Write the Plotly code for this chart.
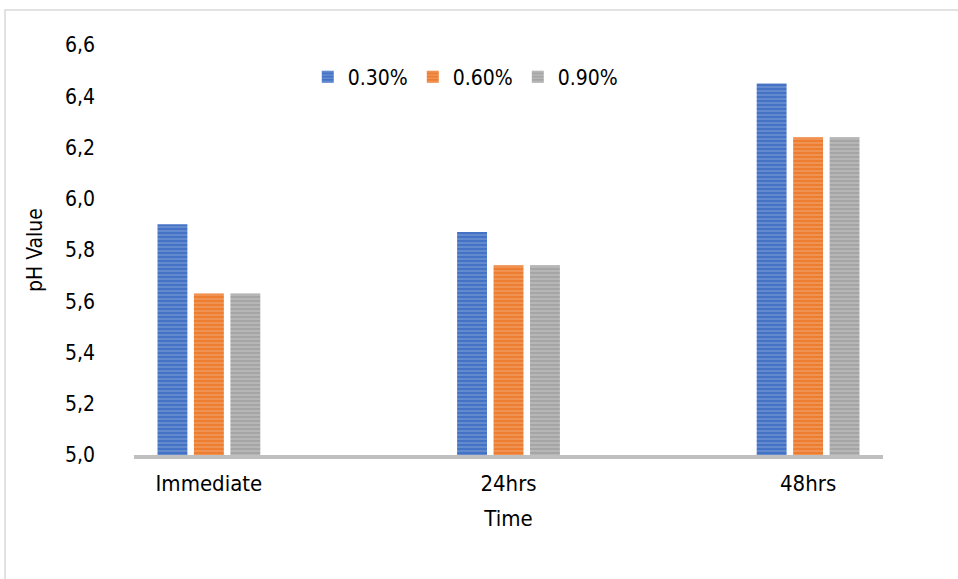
import plotly.graph_objects as go

# Categories, series and y ticks
categories = ["Immediate", "24hrs", "48hrs"]
series_names = ["0.30%", "0.60%", "0.90%"]
ph_030 = [5.90, 5.87, 6.45]
ph_060 = [5.63, 5.74, 6.24]
ph_090 = [5.63, 5.74, 6.24]
y_ticks = [5.0, 5.2, 5.4, 5.6, 5.8, 6.0, 6.2, 6.4, 6.6]

base_colors = ["#4472C4", "#ED7D31", "#A5A5A5"]
stripe_colors = ["#9DB4E0", "#F7B98E", "#D6D6D6"]

FONT = "DejaVu Sans Condensed, DejaVu Sans, sans-serif"

fig = go.Figure()
for name, vals, c, s in zip(series_names, [ph_030, ph_060, ph_090], base_colors, stripe_colors):
    fig.add_trace(go.Bar(
        x=categories, y=vals, name=name,
        marker=dict(color=c, line=dict(width=0),
                    pattern=dict(shape="-", fgcolor=s, bgcolor=c, size=4, solidity=0.35)),
    ))

fig.update_layout(
    width=958, height=579,
    margin=dict(l=134, r=75, t=45, b=124),
    paper_bgcolor="white", plot_bgcolor="white",
    barmode="group", bargap=0.635, bargroupgap=0.18,
    separators=",.",
    font=dict(family=FONT, size=21, color="#000000"),
    showlegend=True,
    legend=dict(orientation="h", x=0.232, y=0.922, xanchor="left", yanchor="middle",
                font=dict(size=21), itemwidth=30, tracegroupgap=0,
                bgcolor="rgba(0,0,0,0)"),
    shapes=[dict(type="rect", xref="paper", yref="paper",
                 x0=-0.1722, x1=1.2, y0=-0.5, y1=1.0854,
                 line=dict(color="#D9D9D9", width=1.5), fillcolor="rgba(0,0,0,0)",
                 layer="below")],
)

fig.update_xaxes(
    range=[-0.25, 2.25], showline=True, linecolor="#BFBFBF", linewidth=4,
    showgrid=False, ticks="", tickfont=dict(size=22), ticklabelstandoff=6,
    title=dict(text="Time", font=dict(size=22), standoff=16),
)
fig.update_yaxes(
    range=[5.0, 6.6], tickvals=y_ticks, tickformat=".1f",
    showline=False, showgrid=False, zeroline=False, ticks="",
    tickfont=dict(size=21), ticklabelstandoff=38,
    title=dict(text="pH Value", font=dict(size=21), standoff=16),
)

fig.write_html("out.html")
